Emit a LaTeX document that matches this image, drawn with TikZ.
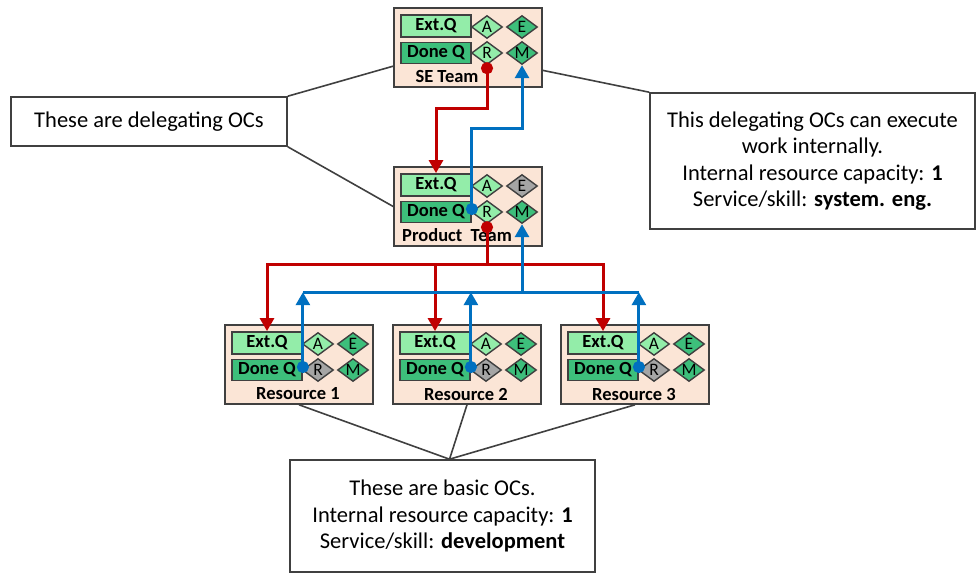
\documentclass[tikz,border=0pt]{standalone}
\usepackage{fontspec}
\setmainfont{Carlito}
\usetikzlibrary{arrows.meta}
\usetikzlibrary{shapes.geometric}
\usetikzlibrary{calc}
\definecolor{ocpeach}{HTML}{FBE5D6}
\definecolor{qlight}{HTML}{93EDA9}
\definecolor{qdark}{HTML}{3DBF7B}
\definecolor{ocgray}{HTML}{A5A5A5}
\definecolor{ocline}{HTML}{404040}
\definecolor{linkred}{HTML}{C00000}
\definecolor{linkblue}{HTML}{0070C0}
\tikzset{
%outer box of an OC
ocbox/.style={draw=ocline, line width=1.6pt, fill=ocpeach, minimum width=148pt, minimum height=79pt, inner sep=0pt},
%queue boxes
extq/.style={draw=ocline, line width=1.8pt, fill=qlight, minimum width=70pt, minimum height=22pt, inner sep=0pt, font=\fontsize{18.5}{20}\selectfont\bfseries},
doneq/.style={extq, fill=qdark, minimum height=21pt},
%role diamonds
role/.style={diamond, aspect=1.4, draw=ocline, line width=1.4pt, fill=qlight, minimum width=31pt, minimum height=23pt, inner sep=0pt, font=\fontsize{17.5}{18}\selectfont},
ocname/.style={font=\fontsize{18.5}{20}\selectfont\bfseries},
%text boxes and their pointers
callout/.style={draw=ocline, line width=1.6pt, fill=white, align=center, inner sep=0pt, font=\fontsize{22.5}{26.5}\selectfont},
pointer/.style={draw=ocline, line width=1.6pt},
%links
redlink/.style={draw=linkred, line width=3pt},
bluelink/.style={draw=linkblue, line width=3pt},
dottip/.style={{Circle[length=12pt]}-{Triangle[length=13pt,width=14pt]}, shorten <=-3pt},
dotonly/.style={{Circle[length=12pt]}-, shorten <=-3pt},
endtip/.style={-{Triangle[length=13pt,width=14pt]}},
}

\begin{document}
\begin{tikzpicture}[x=1pt,y=-1pt]

\useasboundingbox (0,0) rectangle (980,573);

% SE Team
\begin{scope}[shift={(394,8)}]
\node[ocbox] (se) at (74,39.5) {};
\node[extq] (se-ext) at (42,18) {Ext.Q};
\node[doneq] (se-done) at (42,45) {Done Q};
\node[role] (se-A) at (93,19) {A};
\node[role, fill=qdark] (se-E) at (128,19) {E};
\node[role] (se-R) at (93,45) {R};
\node[role, fill=qdark] (se-M) at (128,45) {M};
\node[ocname] (se-name) at (53,69) {SE Team};
\end{scope}

% Product Team
\begin{scope}[shift={(394,167)}]
\node[ocbox] (prod) at (74,39.5) {};
\node[extq] (prod-ext) at (42,18) {Ext.Q};
\node[doneq] (prod-done) at (42,45) {Done Q};
\node[role] (prod-A) at (93,19) {A};
\node[role, fill=ocgray] (prod-E) at (128,19) {E};
\node[role] (prod-R) at (93,45) {R};
\node[role, fill=qdark] (prod-M) at (128,45) {M};
\node[ocname] (prod-name) at (63,68) {Product\ \ Team};
\end{scope}

% Resources
\foreach \i/\xo in {1/225,2/393,3/561}{
\begin{scope}[shift={(\xo,325)}]
\node[ocbox] (r\i) at (74,39.5) {};
\node[extq] (r\i-ext) at (42,18) {Ext.Q};
\node[doneq] (r\i-done) at (42,45) {Done Q};
\node[role] (r\i-A) at (93,19) {A};
\node[role, fill=qdark] (r\i-E) at (128,19) {E};
\node[role, fill=ocgray] (r\i-R) at (93,45) {R};
\node[role, fill=qdark] (r\i-M) at (128,45) {M};
\node[ocname] (r\i-name) at (73,69) {Resource \i};
\end{scope}
}

% text boxes
\node[callout, minimum width=276pt, minimum height=49pt] (deleg) at (149,121.5) {These are delegating OCs};
\node[callout, minimum width=325pt, minimum height=136pt] (intdeleg) at (812.5,161) {This delegating OCs can execute\\work internally.\\Internal resource capacity: \textbf{1}\\Service/skill: \textbf{system. eng.}};
\node[callout, minimum width=305pt, minimum height=112pt] (basic) at (442.5,516) {These are basic OCs.\\Internal resource capacity: \textbf{1}\\Service/skill: \textbf{development}};

\draw[pointer] (deleg.north east) -- (se.194);
\draw[pointer] (deleg.south east) -- (prod.west);
\draw[pointer] (se.-17) -- (intdeleg.north west);
\foreach \i in {1,2,3}
  \draw[pointer] (r\i.south) -- ([xshift=7pt]basic.north);

% SE Team <-> Product Team
\draw[redlink, dottip] (se-R.south) -- ++(0,43) -| (prod-ext.north);
\draw[bluelink, dottip] (prod-done.east) -- ++(0,-84) -| (se-M.south);

% Product Team <-> Resources
\draw[redlink, dotonly] (prod-R.south) -- ++(0,40) coordinate (redbus);
\foreach \i in {1,2,3}
  \draw[redlink, endtip] (redbus) -| (r\i-ext.north);
\coordinate (bluebus) at ($(prod-M.south)+(0,68)$);
\foreach \i in {1,2,3}
  \draw[bluelink, dottip] (r\i-done.east) -- (r\i-done.east |- bluebus);
\draw[bluelink] (r1-done.east |- bluebus) -- (r3-done.east |- bluebus);
\draw[bluelink, endtip] (bluebus) -- (prod-M.south);

\end{tikzpicture}
\end{document}
